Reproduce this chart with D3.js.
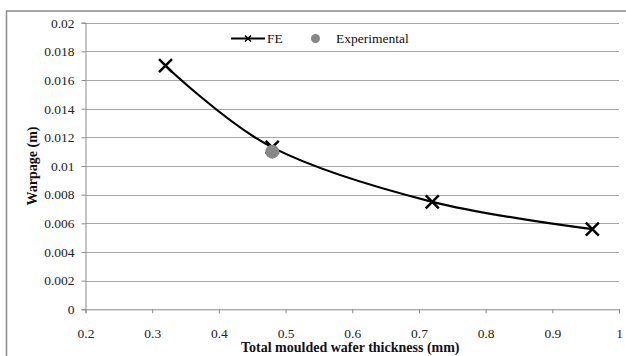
<!DOCTYPE html>
<html><head><meta charset="utf-8">
<script src="https://cdn.jsdelivr.net/npm/d3@7"></script>
<style>body{margin:0;background:#fff}svg{display:block}text{font-family:'Liberation Serif','Times New Roman',serif}</style>
</head><body>
<svg id="c" width="626" height="356"></svg>
<script>
const feX = [0.32, 0.48, 0.72, 0.96];
const feY = [0.017, 0.0113, 0.0075, 0.0056];
const expX = [0.48];
const expY = [0.011];
const xTicks = [0.2, 0.3, 0.4, 0.5, 0.6, 0.7, 0.8, 0.9, 1];
const yTicks = [0, 0.002, 0.004, 0.006, 0.008, 0.01, 0.012, 0.014, 0.016, 0.018, 0.02];
const xLabels = ["0.2","0.3","0.4","0.5","0.6","0.7","0.8","0.9","1"];
const yLabels = ["0","0.002","0.004","0.006","0.008","0.01","0.012","0.014","0.016","0.018","0.02"];

const svg = d3.select("#c");
const font = "'Liberation Serif','Times New Roman',serif";
const L = 85.5, R = 619, T = 22.7, B = 309.3;
const x = d3.scaleLinear().domain([0.2, 1]).range([L, R]);
const y = d3.scaleLinear().domain([0, 0.02]).range([B, T]);

// outer border
svg.append("rect").attr("x", 6.5).attr("y", 11).attr("width", 630).attr("height", 360)
  .attr("fill", "none").attr("stroke", "#8a8a8a").attr("stroke-width", 1.5);

// gridlines
svg.append("g").selectAll("line").data(yTicks.slice(1)).join("line")
  .attr("x1", L).attr("x2", R)
  .attr("y1", d => Math.round(y(d)) + 0.5).attr("y2", d => Math.round(y(d)) + 0.5)
  .attr("stroke", "#a6a6a6").attr("stroke-width", 1);

// y axis
const yAxis = d3.axisLeft(y).tickValues(yTicks).tickFormat((d, i) => yLabels[i]).tickSize(4).tickPadding(7);
const gy = svg.append("g").attr("transform", `translate(${L},0)`).call(yAxis);
// x axis
const xAxis = d3.axisBottom(x).tickValues(xTicks).tickFormat((d, i) => xLabels[i]).tickSize(4).tickPadding(15);
const gx = svg.append("g").attr("transform", `translate(0,${B})`).call(xAxis);
[gx, gy].forEach(g => {
  g.attr("font-family", null).attr("font-size", null);
  g.select(".domain").attr("stroke", "#8a8a8a");
  g.selectAll(".tick line").attr("stroke", "#8a8a8a");
  g.selectAll("text").style("font-family", font).style("font-size", "13.5px").attr("fill", "#222");
});

// axis titles
svg.append("text").attr("x", (L + R) / 2 - 2).attr("y", 352).attr("text-anchor", "middle")
  .style("font-family", font).style("font-size", "14px").attr("font-weight", "bold").attr("fill", "#111")
  .text("Total moulded wafer thickness (mm)");
svg.append("text").attr("transform", `translate(37,${(T + B) / 2}) rotate(-90)`).attr("text-anchor", "middle")
  .style("font-family", font).style("font-size", "14px").attr("font-weight", "bold").attr("fill", "#111")
  .text("Warpage (m)");

// FE line
const feData = feX.map((d, i) => [d, feY[i]]);
svg.append("path").datum(feData)
  .attr("d", d3.line().x(d => x(d[0])).y(d => y(d[1])).curve(d3.curveCardinal.tension(0)))
  .attr("fill", "none").attr("stroke", "#000").attr("stroke-width", 2.2);

const cross = (g, cx, cy, s, w) => {
  g.append("path").attr("d", `M${cx - s},${cy - s}L${cx + s},${cy + s}M${cx - s},${cy + s}L${cx + s},${cy - s}`)
    .attr("stroke", "#000").attr("stroke-width", w).attr("fill", "none");
};
feData.forEach(d => cross(svg, x(d[0]), y(d[1]), 6.5, 2.5));

// experimental
svg.append("g").selectAll("circle").data(expX.map((d, i) => [d, expY[i]])).join("circle")
  .attr("cx", d => x(d[0])).attr("cy", d => y(d[1])).attr("r", 7).attr("fill", "#878787");

// legend
const lg = svg.append("g");
lg.append("line").attr("x1", 231).attr("x2", 265).attr("y1", 38.5).attr("y2", 38.5)
  .attr("stroke", "#000").attr("stroke-width", 2.2);
cross(lg, 248, 38.5, 3, 1.5);
lg.append("text").attr("x", 267).attr("y", 43).style("font-family", font).style("font-size", "13.5px").attr("fill", "#111").text("FE");
lg.append("circle").attr("cx", 315.5).attr("cy", 38.5).attr("r", 4.5).attr("fill", "#878787");
lg.append("text").attr("x", 336).attr("y", 43).style("font-family", font).style("font-size", "13.5px").attr("fill", "#111").text("Experimental");
</script>
</body></html>
